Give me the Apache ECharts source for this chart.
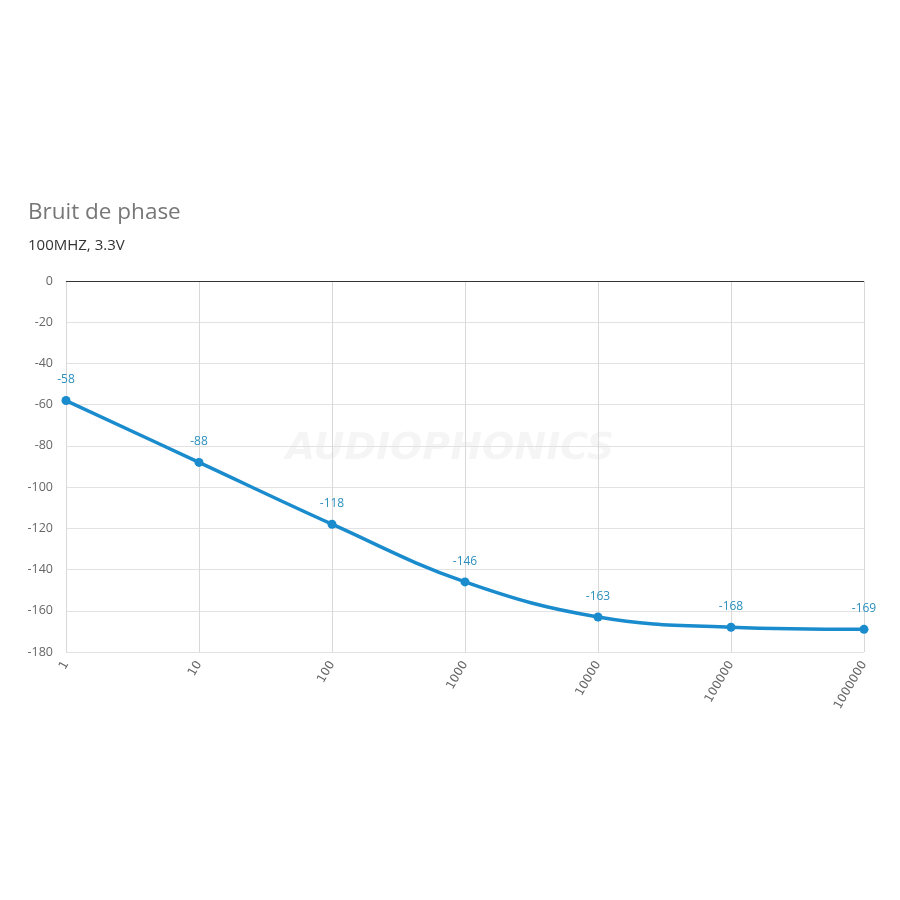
<!DOCTYPE html>
<html>
<head>
<meta charset="utf-8">
<script src="https://cdn.jsdelivr.net/npm/echarts@6/dist/echarts.min.js"></script>
<style>html,body{margin:0;padding:0;background:#fff}#c{width:900px;height:900px}</style>
</head>
<body>
<div id="c"></div>
<script>
const categories = ['1','10','100','1000','10000','100000','1000000'];
const phaseNoise = [-58,-88,-118,-146,-163,-168,-169];
const yMin = -180, yMax = 0, yStep = 20;

const chart = echarts.init(document.getElementById('c'));
chart.setOption({
  backgroundColor: '#fff',
  animation: false,
  title: [
    {text: 'Bruit de phase', left: 28, top: 201, padding: 0, textStyle: {fontFamily: 'Open Sans', fontSize: 22.5, fontWeight: 'normal', color: '#777'}},
    {text: '100MHZ, 3.3V', left: 28, top: 238, padding: 0, textStyle: {fontFamily: 'Open Sans', fontSize: 15, fontWeight: 'normal', color: '#333'}}
  ],
  graphic: [{
    type: 'text', left: 'center', top: 430, z: 0,
    style: {text: 'AUDIOPHONICS', font: 'italic bold 38px "DejaVu Sans"', fill: 'rgba(0,0,0,0.04)'}
  }],
  grid: {left: 66, right: 36, top: 281, bottom: 248},
  xAxis: {
    type: 'category', data: categories, boundaryGap: false,
    axisLine: {lineStyle: {color: '#ddd'}},
    axisTick: {show: false},
    splitLine: {show: true, lineStyle: {color: '#d8d8d8'}},
    axisLabel: {rotate: 60, color: '#666', fontSize: 12, fontFamily: 'DejaVu Sans', margin: 10}
  },
  yAxis: {
    type: 'value', min: yMin, max: yMax, interval: yStep,
    axisLine: {show: false}, axisTick: {show: false},
    splitLine: {lineStyle: {color: '#e2e2e2'}},
    axisLabel: {color: '#666', fontSize: 12.5, fontFamily: 'Open Sans', margin: 13}
  },
  series: [{
    type: 'line', data: phaseNoise, smooth: 0.4,
    symbol: 'circle', symbolSize: 9,
    lineStyle: {color: '#1a8ccd', width: 3.5},
    itemStyle: {color: '#1a8ccd'},
    label: {show: true, position: 'top', distance: 10, color: '#2a8fbd', fontSize: 12, fontFamily: 'Open Sans'},
    markLine: {
      silent: true, symbol: 'none', label: {show: false},
      lineStyle: {color: '#333', width: 1, type: 'solid'},
      data: [{yAxis: 0}]
    }
  }]
});
</script>
</body>
</html>
